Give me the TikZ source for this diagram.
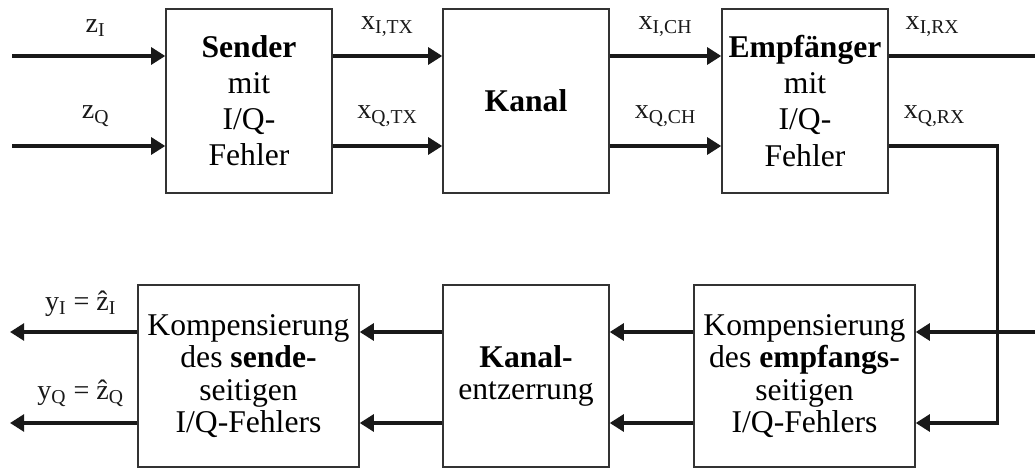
\documentclass[tikz,border=0pt]{standalone}
\usepackage{fontspec}
\setmainfont{Liberation Serif}
\usetikzlibrary{arrows.meta,positioning,calc}

\begin{document}
\begin{tikzpicture}[
  block/.style={rectangle,draw=black!80,line width=0.8pt,minimum width=3.32cm,minimum height=3.68cm,align=center,font=\fontsize{18}{20.5}\selectfont,inner sep=1pt},
  lowblock/.style={block,minimum height=3.64cm,font=\fontsize{18}{18.5}\selectfont},
  wblock/.style={lowblock,minimum width=4.42cm},
  sig/.style={-{Triangle[length=8pt,width=9.5pt]},line width=2pt,black!90},
  wire/.style={line width=2pt,black!90},
  lab/.style={font=\fontsize{16}{16}\selectfont,inner sep=0pt},
]
\useasboundingbox (0,0) rectangle (20.7,9.38);

% UPPER CHAIN
\node[block] (sender) at (4.98,7.36) {\textbf{Sender}\\mit\\I/Q-\\Fehler};
\node[block] (kanal) at (10.52,7.36) {\textbf{Kanal}};
\node[block] (empf) at (16.10,7.36) {\textbf{Empfänger}\\mit\\I/Q-\\Fehler};

% LOWER CHAIN
\node[wblock] (ksend) at (4.97,1.86) {Kompensierung\\des \textbf{sende-}\\seitigen\\I/Q-Fehlers};
\node[lowblock] (entz) at (10.52,1.86) {\textbf{Kanal-}\\entzerrung};
\node[wblock] (kempf) at (16.09,1.86) {Kompensierung\\des \textbf{empfangs-}\\seitigen\\I/Q-Fehlers};

% FREE ENDS
\coordinate (inI) at (0.24,8.26);
\coordinate (inQ) at (0.24,6.46);
\coordinate (outI) at (20.7,8.26);
\coordinate (backI) at (20.7,2.74);
\coordinate (yI) at (0.2,2.74);
\coordinate (yQ) at (0.2,0.92);

% EDGES
\draw[sig] (inI) -- (inI-|sender.west) node[lab,midway,above=10pt,xshift=4pt]{z\textsubscript{I}};
\draw[sig] (inQ) -- (inQ-|sender.west) node[lab,midway,above=10pt,xshift=4pt]{z\textsubscript{Q}};
\draw[sig] (inI-|sender.east) -- (inI-|kanal.west) node[lab,midway,above=10pt]{x\textsubscript{I,TX}};
\draw[sig] (inQ-|sender.east) -- (inQ-|kanal.west) node[lab,midway,above=10pt]{x\textsubscript{Q,TX}};
\draw[sig] (inI-|kanal.east) -- (inI-|empf.west) node[lab,midway,above=10pt]{x\textsubscript{I,CH}};
\draw[sig] (inQ-|kanal.east) -- (inQ-|empf.west) node[lab,midway,above=10pt]{x\textsubscript{Q,CH}};
\draw[wire] (inI-|empf.east) -- (outI) node[lab,pos=0.3,above=10pt]{x\textsubscript{I,RX}};
\draw[sig] (inQ-|empf.east) -- ++(2.18,0) node[lab,pos=0.42,above=10pt]{x\textsubscript{Q,RX}} |- (yQ-|kempf.east);
\draw[sig] (backI) -- (backI-|kempf.east);
\draw[sig] (yI-|kempf.west) -- (yI-|entz.east);
\draw[sig] (yQ-|kempf.west) -- (yQ-|entz.east);
\draw[sig] (yI-|entz.west) -- (yI-|ksend.east);
\draw[sig] (yQ-|entz.west) -- (yQ-|ksend.east);
\draw[sig] (yI-|ksend.west) -- (yI) node[lab,midway,above=8pt,xshift=4pt]{y\textsubscript{I} =\ \^{z}\textsubscript{I}};
\draw[sig] (yQ-|ksend.west) -- (yQ) node[lab,midway,above=8pt,xshift=4pt]{y\textsubscript{Q} =\ \^{z}\textsubscript{Q}};
\end{tikzpicture}
\end{document}
